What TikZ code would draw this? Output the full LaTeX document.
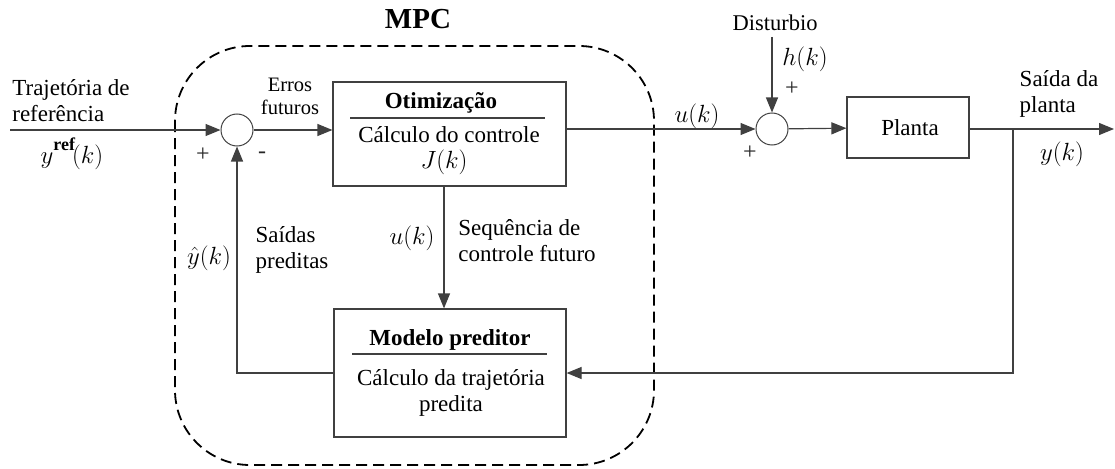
\documentclass[tikz,border=0pt]{standalone}
\usepackage{fontspec}
\setmainfont{Liberation Serif}
\usetikzlibrary{arrows.meta,calc}
\tikzset{
  ln/.style={draw=black!75, line width=1.2pt},
  arr/.style={ln, -{Triangle[length=15pt,width=12pt]}},
  blk/.style={draw=black!75, line width=1.2pt, rectangle, inner sep=0pt},
  sumc/.style={draw=black!75, line width=1pt, circle, minimum size=32pt, inner sep=0pt},
  txt/.style={font=\fontsize{23}{26}\selectfont, inner sep=0pt},
  smalltxt/.style={font=\fontsize{20.5}{23}\selectfont, inner sep=0pt},
  mth/.style={font=\fontsize{26}{28}\selectfont, inner sep=0pt},
  sgn/.style={font=\fontsize{24}{24}\selectfont, inner sep=0pt, text=black!85},
  mpcbox/.style={draw=black, line width=1.8pt, dash pattern=on 11pt off 6pt, rounded corners=75pt},
}
\begin{document}
\begin{tikzpicture}[x=1pt,y=-1pt]
\useasboundingbox (0,0) rectangle (1115,468);
% MPC dashed region
\draw[mpcbox] (175,46) rectangle (654,465);
\node[font=\bfseries\fontsize{29}{32}\selectfont, inner sep=0pt] (mpc) at (418,19) {MPC};
% blocks
\node[sumc] (s1) at (237,130) {};
\node[blk, minimum width=233pt, minimum height=104pt] (opt) at (449.5,134) {};
\node[sumc] (s2) at (772,129) {};
\node[blk, minimum width=122pt, minimum height=61pt] (plant) at (908,127.5) {};
\node[blk, minimum width=232pt, minimum height=128pt] (pred) at (450,373) {};
\coordinate (in) at (10,130);
\coordinate (dist) at (772,37);
\coordinate (out) at (1114,129);
\coordinate (br) at (1013,129);
% block texts
\node[txt, font=\bfseries\fontsize{23}{26}\selectfont] (optt) at (441,103) {Otimização};
\draw[ln] (350,118) -- (545,118);
\node[txt] (optc) at (449,135) {Cálculo do controle};
\node[mth] (optj) at (444,162) {$J(k)$};
\node[txt] (plantt) at (910,128) {Planta};
\node[txt, font=\bfseries\fontsize{23}{26}\selectfont] (predt) at (450,340) {Modelo preditor};
\draw[ln] (352,354) -- (547,354);
\node[txt, align=center] (predc) at (451,393) {Cálculo da trajetória\\predita};
% connectors
\draw[arr] (in) -- (s1);
\draw[arr] (s1) -- (s1 -| opt.west);
\draw[arr] (opt.east |- s2) -- (s2);
\draw[arr] (dist) -- (s2);
\draw[arr] (s2) -- (plant);
\draw[arr] (plant.east |- out) -- (out);
\draw[arr] (br) |- (pred.east);
\draw[arr] ([xshift=-5.5pt]opt.south) -- ([xshift=-5.5pt]opt.south |- pred.north);
\draw[arr] (pred.west) -| (s1.south);
% labels
\node[txt, align=left] (traj) at (71,101) {Trajetória de\\referência};
\node[mth] (yref) at (72,154) {$y$\raisebox{13pt}{\bfseries\fontsize{18}{18}\selectfont ref}\hspace{-3pt}$(k)$};
\node[sgn] (p1) at (203,155) {+};
\node[sgn] (m1) at (262,155) {-};
\node[smalltxt, align=center] (erros) at (290,96) {Erros\\futuros};
\node[mth] (uk) at (697,116) {$u(k)$};
\node[sgn] (p2) at (750,153) {+};
\node[sgn] (p3) at (792,89) {+};
\node[smalltxt, font=\fontsize{22.5}{24}\selectfont] (dst) at (775,23) {Disturbio};
\node[mth] (hk) at (805,59) {$h(k)$};
\node[txt, align=left] (sp) at (1059,94) {Saída da\\planta};
\node[mth] (yk) at (1062,154) {$y(k)$};
\node[mth] (yhat) at (209,258) {$\hat{y}(k)$};
\node[txt, align=left] (said) at (292,250) {Saídas\\preditas};
\node[mth] (uk2) at (412,238) {$u(k)$};
\node[txt, align=left] (seq) at (527,241) {Sequência de\\controle futuro};
\end{tikzpicture}
\end{document}
